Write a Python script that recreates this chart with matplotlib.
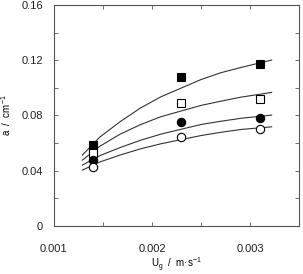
import matplotlib
matplotlib.use("Agg")
import matplotlib.pyplot as plt
from matplotlib.ticker import MultipleLocator

plt.rcParams['font.family'] = ['Liberation Sans', 'DejaVu Sans']
plt.rcParams['mathtext.fontset'] = 'custom'
plt.rcParams['mathtext.rm'] = 'Liberation Sans'

# measured points
ug = [0.0014, 0.0023, 0.0031]
a_filled_sq = [0.059, 0.108, 0.117]
a_open_sq = [0.053, 0.089, 0.092]
a_filled_ci = [0.048, 0.075, 0.078]
a_open_ci = [0.043, 0.0646, 0.070]

# fitted curves
ug_fit = [0.00129, 0.00147, 0.001675, 0.00188, 0.00209, 0.0025, 0.0027, 0.00291, 0.00322]
fit_1 = [0.0514, 0.0645, 0.0755, 0.0853, 0.0935, 0.1060, 0.1109, 0.1148, 0.1201]
fit_2 = [0.0477, 0.0578, 0.0665, 0.0733, 0.0791, 0.0873, 0.0903, 0.0933, 0.0967]
fit_3 = [0.0441, 0.0510, 0.0568, 0.0620, 0.0665, 0.0735, 0.0758, 0.0780, 0.0803]
fit_4 = [0.0405, 0.0464, 0.0514, 0.0558, 0.0595, 0.0655, 0.0678, 0.0699, 0.0718]

fig = plt.figure(figsize=(3.03, 2.74), dpi=100)
ax = fig.add_axes([0.178, 0.175, 0.809, 0.807])

for f in (fit_1, fit_2, fit_3, fit_4):
    ax.plot(ug_fit, f, color='#333333', lw=0.8, zorder=2)

mk = dict(ms=6, mec='black', mew=0.8, ls='none', zorder=3)
ax.plot(ug, a_filled_sq, marker='s', mfc='black', **mk)
ax.plot(ug, a_open_sq, marker='s', mfc='white', **mk)
ax.plot(ug, a_filled_ci, marker='o', mfc='black', **mk)
ax.plot(ug, a_open_ci, marker='o', mfc='white', **mk)

ax.set_xlim(0.001, 0.0035)
ax.set_ylim(0, 0.16)
ax.set_xticks([0.001, 0.002, 0.003])
ax.set_xticklabels(['0.001', '0.002', '0.003'])
ax.set_yticks([0, 0.04, 0.08, 0.12, 0.16])
ax.set_yticklabels(['0', '0.04', '0.08', '0.12', '0.16'])
ax.xaxis.set_minor_locator(MultipleLocator(0.0005))
ax.yaxis.set_minor_locator(MultipleLocator(0.02))
ax.tick_params(which='both', direction='in', top=True, right=True,
               length=3, width=0.6, color='#555555')
ax.tick_params(which='major', labelsize=8, labelcolor='#222222', pad=8)
ax.tick_params(axis='x', which='major', pad=13)
for s in ax.spines.values():
    s.set_color('#555555')
    s.set_linewidth(0.8)

ax.set_xlabel(r'U$_\mathrm{g}$  /  m·s$^{\mathrm{-1}}$', fontsize=7, labelpad=1)
ax.set_ylabel(r'a  /  cm$^{\mathrm{-1}}$', fontsize=7, labelpad=6)

fig.savefig('out.png', dpi=100)
